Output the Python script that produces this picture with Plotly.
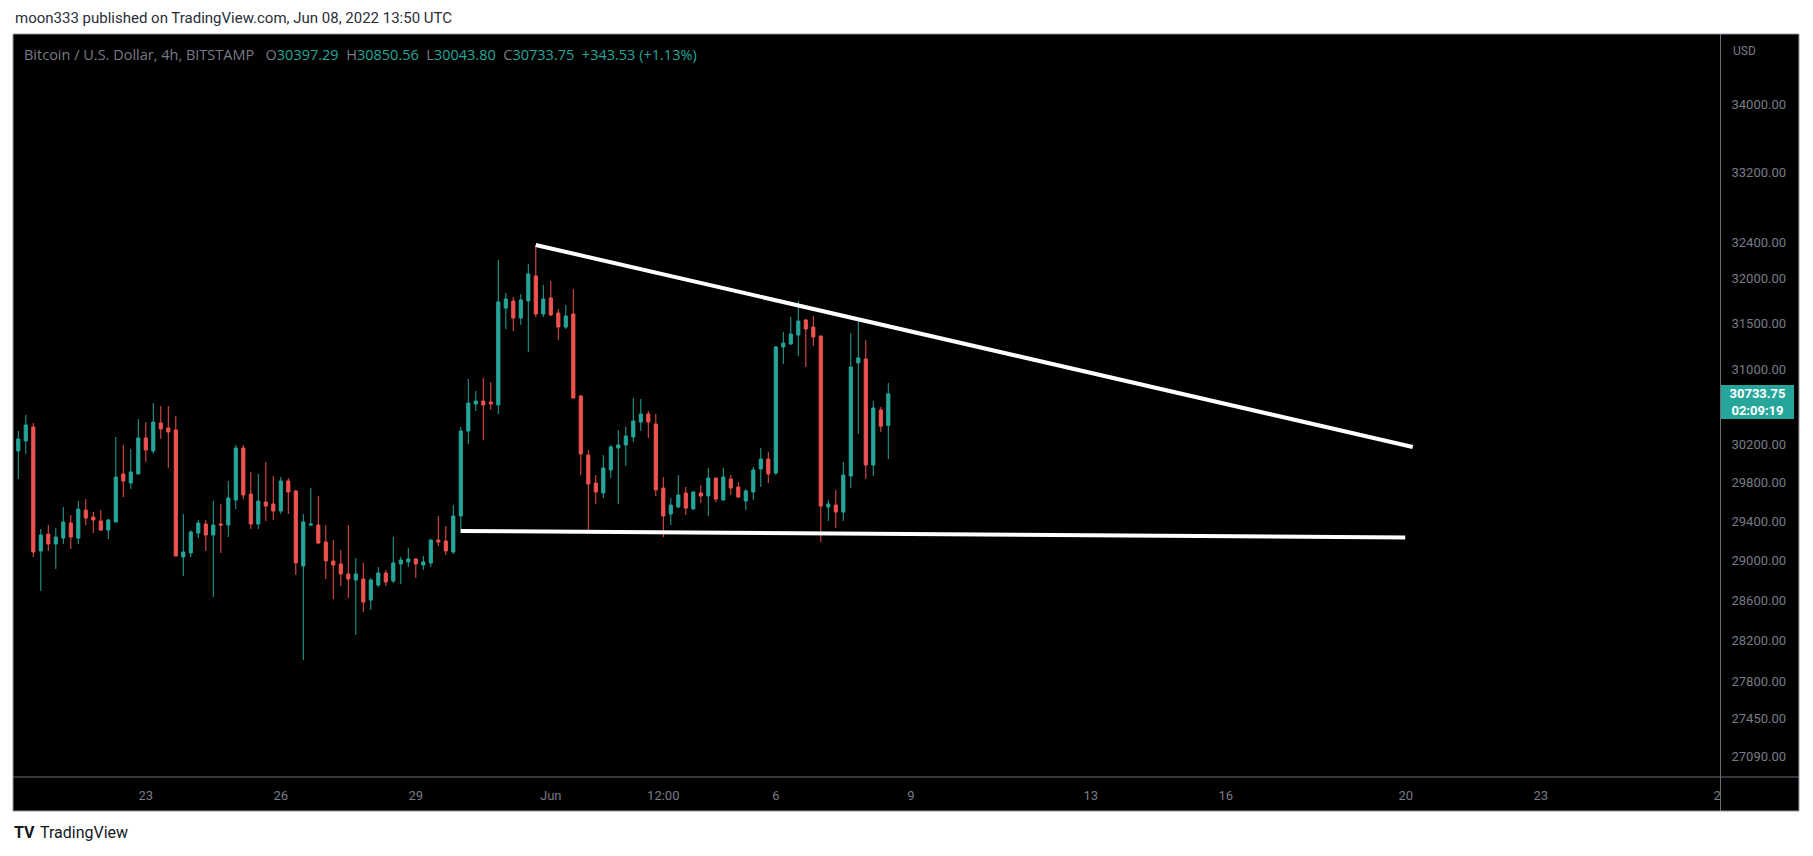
import math
import pandas as pd
import plotly.graph_objects as go

# ---------------- data (4h candles, BTC/USD Bitstamp) ----------------
start_time = "2022-05-20 04:00"
opens = [30129, 30234, 30382, 29097, 29269, 29168, 29228, 29382, 29228, 29515,
         29443, 29403, 29310, 29392, 29888, 29794, 29888, 30265, 30129, 30424,
         30371, 30350, 29036, 29077, 29279, 29372, 29259, 29372, 29361, 29618,
         30160, 29680, 29372, 29597, 29577, 29505, 29815, 29712, 28945, 29361,
         29361, 29188, 28996, 28966, 28865, 28804, 28814, 28604, 28754, 28875,
         28794, 28966, 28986, 29016, 28955, 28976, 29208, 29198, 29087, 29454,
         30339, 30626, 30657, 30647, 30615, 31667, 31745, 31557, 31745, 32023,
         31601, 31778, 31612, 31458, 31601, 30711, 30086, 29794, 29691, 29930,
         30160, 30192, 30276, 30434, 30519, 30413, 29742, 29474, 29546, 29691,
         29525, 29691, 29660, 29846, 29618, 29836, 29753, 29608, 29701, 29940,
         30044, 29898, 31240, 31272, 31370, 31535, 31458, 31360, 29546, 29566,
         29494, 29867, 31067, 31110, 29982, 30562, 30397.29]
highs = [30339, 30509, 30424, 29320, 29362, 29331, 29546, 29464, 29608, 29628,
         29494, 29515, 29423, 30276, 30192, 30150, 30466, 30434, 30636, 30604,
         30604, 30498, 29474, 29310, 29413, 29413, 29608, 29577, 29815, 30192,
         30192, 29909, 29888, 30013, 29867, 29856, 29846, 29722, 29474, 29742,
         29660, 29361, 29208, 29107, 29361, 29026, 28976, 28824, 28935, 28905,
         29239, 29036, 29127, 29026, 29046, 29218, 29454, 29351, 29566, 30382,
         30894, 30764, 30905, 30861, 32201, 31833, 31789, 31822, 32156, 32370,
         31922, 31967, 31656, 31700, 31877, 30722, 30139, 29877, 30086, 30192,
         30350, 30382, 30689, 30679, 30551, 30519, 29856, 29639, 29877, 29753,
         29712, 29773, 29951, 29846, 29951, 29877, 29805, 29732, 29961, 30160,
         30118, 31251, 31403, 31568, 31745, 31546, 31579, 31360, 29618, 29722,
         30013, 31392, 31535, 31316, 30657, 30594, 30850.56]
lows = [29836, 30097, 29036, 28694, 29097, 28915, 29168, 29117, 29168, 29361,
        29279, 29300, 29218, 29392, 29649, 29732, 29888, 30013, 30097, 30255,
        29951, 29046, 28844, 29036, 29228, 29097, 28634, 29077, 29239, 29525,
        29628, 29320, 29320, 29403, 29413, 29474, 29474, 28855, 28013, 29351,
        29168, 28814, 28614, 28744, 28624, 28258, 28485, 28505, 28734, 28744,
        28774, 28764, 28935, 28824, 28905, 28935, 29147, 29056, 29066, 29279,
        30202, 30551, 30244, 30562, 30519, 31436, 31414, 31480, 31185, 31568,
        31568, 31579, 31316, 31436, 30689, 29877, 29310, 29577, 29639, 29846,
        29577, 29972, 30223, 30339, 30265, 29660, 29239, 29361, 29535, 29464,
        29525, 29587, 29454, 29597, 29618, 29670, 29639, 29515, 29618, 29753,
        29794, 29877, 31056, 31262, 31142, 31023, 31251, 29188, 29403, 29331,
        29403, 29742, 30307, 29836, 29867, 30329, 30043.80]
closes = [30255, 30403, 29087, 29259, 29168, 29239, 29392, 29239, 29525, 29433,
          29413, 29310, 29413, 29856, 29815, 29909, 30265, 30139, 30434, 30361,
          30329, 29046, 29087, 29290, 29382, 29259, 29361, 29361, 29639, 30160,
          29670, 29372, 29608, 29556, 29505, 29815, 29701, 28976, 29392, 29372,
          29178, 28996, 28955, 28865, 28814, 28865, 28584, 28804, 28875, 28784,
          28976, 29006, 29016, 28966, 28986, 29208, 29188, 29097, 29454, 30339,
          30636, 30657, 30615, 30626, 31734, 31767, 31557, 31756, 32045, 31601,
          31767, 31590, 31458, 31579, 30689, 30097, 29784, 29701, 29951, 30171,
          30192, 30286, 30445, 30519, 30434, 29722, 29454, 29566, 29670, 29535,
          29701, 29660, 29846, 29628, 29856, 29742, 29649, 29712, 29930, 30044,
          29888, 31240, 31283, 31381, 31524, 31436, 31349, 29556, 29577, 29494,
          29877, 31023, 31121, 29982, 30583, 30390.22, 30733.75]

# drawn trend lines (start / end)
upper_line_x = ["2022-05-31 16:00", "2022-06-20 03:42"]
upper_line_y = [32370, 30170]
lower_line_x = ["2022-05-30 00:00", "2022-06-19 23:42"]
lower_line_y = [29301, 29234]

y_ticks = [34000, 33200, 32400, 32000, 31500, 31000, 30200, 29800, 29400,
           29000, 28600, 28200, 27800, 27450, 27090]
x_tick_dates = ["2022-05-23", "2022-05-26", "2022-05-29", "2022-06-01",
                "2022-06-03 12:00", "2022-06-06", "2022-06-09", "2022-06-13",
                "2022-06-16", "2022-06-20", "2022-06-23", "2022-06-27"]
x_tick_text = ["23", "26", "29", "Jun", "12:00", "6", "9", "13", "16", "20",
               "23", "27"]
countdown = "02:09:19"

# ---------------- styling ----------------
W, H = 1813, 856
L_PX, R_PX, T_PX, B_PX = 13, 1799, 34, 777
AX_PX = 1720.5
BOT_PX = 811
GREEN = "#26a69a"
RED = "#ef5350"
GRAY = "#787b86"
FONT = "Roboto, Liberation Sans, sans-serif"
LEG_FONT = "Open Sans, Roboto, sans-serif"
SP = "\u00a0"


def px_x(px):
    return (px - L_PX) / (R_PX - L_PX)


def px_y(py):
    return (B_PX - py) / (B_PX - T_PX)


times = pd.date_range(start_time, periods=len(closes), freq="4h")

fig = go.Figure()
fig.add_trace(go.Candlestick(
    x=times, open=opens, high=highs, low=lows, close=closes,
    increasing=dict(line=dict(color=GREEN, width=1), fillcolor=GREEN),
    decreasing=dict(line=dict(color=RED, width=1), fillcolor=RED),
    whiskerwidth=0, hoverinfo="skip", showlegend=False))

for lx, ly in ((upper_line_x, upper_line_y), (lower_line_x, lower_line_y)):
    fig.add_trace(go.Scatter(x=lx, y=ly, mode="lines",
                             line=dict(color="white", width=4),
                             hoverinfo="skip", showlegend=False))

shapes = [
    dict(type="rect", xref="paper", yref="paper", x0=0, x1=1,
         y0=px_y(BOT_PX), y1=0, fillcolor="black", line=dict(width=0),
         layer="below"),
    dict(type="rect", xref="paper", yref="paper", x0=px_x(AX_PX), x1=1,
         y0=px_y(BOT_PX), y1=0, fillcolor="black", line=dict(width=0),
         layer="above"),
    dict(type="line", xref="paper", yref="paper", x0=0, x1=1, y0=0, y1=0,
         line=dict(color="#6b6e78", width=1), layer="above"),
    dict(type="line", xref="paper", yref="paper", x0=px_x(AX_PX),
         x1=px_x(AX_PX), y0=px_y(BOT_PX), y1=1,
         line=dict(color="#6b6e78", width=1), layer="above"),
    dict(type="rect", xref="paper", yref="paper", x0=0, x1=1,
         y0=px_y(BOT_PX), y1=1, line=dict(color="#9598a1", width=1),
         fillcolor="rgba(0,0,0,0)", layer="above"),
]

o, h, l, c = opens[-1], highs[-1], lows[-1], closes[-1]
chg = c - closes[-2]
pct = chg / closes[-2] * 100


def val(v):
    return f'<span style="color:{GREEN}">{v}</span>'


def lab(t):
    return f'<span style="color:{GRAY}">{t}</span>'


legend = (lab("Bitcoin / U.S. Dollar, 4h, BITSTAMP") + SP * 3
          + lab("O") + val(f"{o:.2f}") + SP * 2
          + lab("H") + val(f"{h:.2f}") + SP * 2
          + lab("L") + val(f"{l:.2f}") + SP * 2
          + lab("C") + val(f"{c:.2f}") + SP * 2
          + val(f"{chg:+.2f}{SP}({pct:+.2f}%)"))

annotations = [
    dict(text="moon333 published on TradingView.com, Jun 08, 2022 13:50 UTC",
         xref="paper", yref="paper", x=px_x(13), y=px_y(18), xanchor="left",
         yanchor="middle", showarrow=False,
         font=dict(family=FONT, size=15, color="#2a2e39")),
    dict(text=legend, xref="paper", yref="paper", x=px_x(22), y=px_y(54),
         xanchor="left", yanchor="middle", showarrow=False,
         font=dict(family=LEG_FONT, size=14.5, color=GRAY)),
    dict(text="USD", xref="paper", yref="paper", x=px_x(1731), y=px_y(51),
         xanchor="left", yanchor="middle", showarrow=False,
         font=dict(family=FONT, size=12, color=GRAY)),
    dict(text=f"<b>{c:.2f}</b><br><b>{countdown}</b>", xref="paper", yref="y",
         x=px_x(1721), y=math.log10(c), xanchor="left", yanchor="top",
         yshift=9, width=73, height=34, align="center", valign="middle",
         bgcolor=GREEN, borderpad=0, borderwidth=0, showarrow=False,
         font=dict(family=FONT, size=13, color="white")),
    dict(text="<b>TV</b>", xref="paper", yref="paper", x=px_x(12),
         y=px_y(832), xanchor="left", yanchor="middle", showarrow=False,
         font=dict(family=FONT, size=16, color="#131722")),
    dict(text="TradingView", xref="paper", yref="paper", x=px_x(38),
         y=px_y(832), xanchor="left", yanchor="middle", showarrow=False,
         font=dict(family=FONT, size=16, color="#131722")),
]

y_lo = math.log10(30850.56) - (B_PX - 383) / 6610
y_hi = math.log10(30850.56) + (383 - T_PX) / 6610

fig.update_layout(
    width=W, height=H,
    margin=dict(l=L_PX, r=W - R_PX, t=T_PX, b=H - B_PX, pad=0),
    paper_bgcolor="white", plot_bgcolor="black",
    showlegend=False, boxgap=0.4,
    shapes=shapes, annotations=annotations,
    xaxis=dict(type="date", range=["2022-05-20 01:10:24", "2022-06-28 17:42:36"],
               rangeslider=dict(visible=False), showgrid=False, zeroline=False,
               showline=False, ticks="", tickvals=x_tick_dates,
               ticktext=x_tick_text, ticklabelstandoff=9,
               tickfont=dict(family=FONT, size=13, color=GRAY), fixedrange=True),
    yaxis=dict(type="log", range=[y_lo, y_hi], anchor="free",
               position=px_x(AX_PX), side="right", showgrid=False,
               zeroline=False, showline=False, ticks="", tickvals=y_ticks,
               ticktext=[f"{v:.2f}" for v in y_ticks], ticklabelstandoff=10,
               tickfont=dict(family=FONT, size=13, color=GRAY), fixedrange=True),
)

fig.write_html(
    "out.html", config={"displayModeBar": False},
    post_script="document.body.style.margin='0';"
                "document.body.style.overflow='hidden';")
